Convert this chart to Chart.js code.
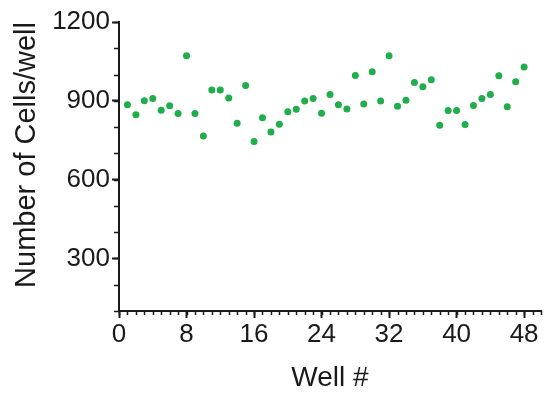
<!DOCTYPE html>
<html>
<head>
<meta charset="utf-8">
<script src="https://cdn.jsdelivr.net/npm/chart.js@4.4.1/dist/chart.umd.min.js"></script>
<style>
  html, body { margin: 0; padding: 0; background: #ffffff; }
  #wrap { width: 548px; height: 400px; position: relative; }
</style>
</head>
<body>
<div id="wrap"><canvas id="c" width="548" height="400"></canvas></div>
<script>
const wells = [1, 2, 3, 4, 5, 6, 7, 8, 9, 10, 11, 12, 13, 14, 15, 16,
               17, 18, 19, 20, 21, 22, 23, 24, 25, 26, 27, 28, 29, 30, 31, 32,
               33, 34, 35, 36, 37, 38, 39, 40, 41, 42, 43, 44, 45, 46, 47, 48];
const cellsPerWell = [885, 847, 900, 909, 864, 881, 852, 1072, 852, 766, 941, 941, 911, 815, 958, 745,
                      836, 781, 811, 858, 868, 899, 909, 853, 924, 885, 869, 996, 888, 1011, 899, 1072,
                      879, 902, 970, 954, 980, 807, 863, 863, 810, 882, 909, 924, 995, 877, 973, 1029];
const xTickLabels = [0, 8, 16, 24, 32, 40, 48];
const yTickLabels = [300, 600, 900, 1200];
const xMinorStep = 1;
const yMinorStep = 100;

const FONT = '"Liberation Sans", Arial, Helvetica, sans-serif';
const INK = '#1a1a1a';

const minorTicks = {
  id: 'minorTicks',
  afterDraw(chart) {
    const ctx = chart.ctx;
    const xs = chart.scales.x, ys = chart.scales.y;
    ctx.save();
    ctx.strokeStyle = INK;
    ctx.lineWidth = 1.5;
    ctx.beginPath();
    for (let v = xs.min; v <= xs.max + 1e-9; v += xMinorStep) {
      const px = Math.round(xs.getPixelForValue(v)) + 0.5;
      ctx.moveTo(px, xs.top);
      ctx.lineTo(px, xs.top + 4);
    }
    for (let v = ys.min; v <= ys.max + 1e-9; v += yMinorStep) {
      const py = Math.round(ys.getPixelForValue(v)) + 0.5;
      ctx.moveTo(ys.right, py);
      ctx.lineTo(ys.right - 5, py);
    }
    ctx.stroke();
    ctx.restore();
  }
};

new Chart(document.getElementById('c'), {
  type: 'scatter',
  data: {
    datasets: [{
      data: wells.map((w, i) => ({ x: w, y: cellsPerWell[i] })),
      backgroundColor: '#1fae4a',
      borderColor: '#1fae4a',
      borderWidth: 0,
      pointRadius: 3.5,
      pointHoverRadius: 3.5
    }]
  },
  options: {
    responsive: false,
    animation: false,
    devicePixelRatio: 1,
    layout: { padding: { top: 22, right: 7, left: 0, bottom: 0 } },
    plugins: { legend: { display: false }, tooltip: { enabled: false } },
    scales: {
      x: {
        type: 'linear',
        min: 0,
        max: 50,
        afterBuildTicks: (s) => { s.ticks = xTickLabels.map(v => ({ value: v })); },
        afterFit: (s) => { s.height = 89; },
        border: { display: true, color: INK, width: 2 },
        grid: { display: true, drawOnChartArea: false, drawTicks: true, tickLength: 7, tickWidth: 2, tickColor: INK },
        ticks: { color: INK, font: { family: FONT, size: 26 }, padding: 1, maxRotation: 0, autoSkip: false,
                 callback: (v) => String(v) },
        title: { display: true, text: 'Well #', color: INK, font: { family: FONT, size: 28 }, padding: { top: 0, bottom: 5 } }
      },
      y: {
        type: 'linear',
        min: 100,
        max: 1200,
        afterBuildTicks: (s) => { s.ticks = yTickLabels.map(v => ({ value: v })); },
        afterFit: (s) => { s.width = 119; },
        border: { display: true, color: INK, width: 2 },
        grid: { display: true, drawOnChartArea: false, drawTicks: true, tickLength: 7, tickWidth: 2, tickColor: INK },
        ticks: { color: INK, font: { family: FONT, size: 26 }, padding: 2, autoSkip: false,
                 callback: (v) => String(v) },
        title: { display: true, text: 'Number of Cells/well', align: 'end', color: INK, font: { family: FONT, size: 29 }, padding: { top: 10, bottom: 0 } }
      }
    }
  },
  plugins: [minorTicks]
});
</script>
</body>
</html>
